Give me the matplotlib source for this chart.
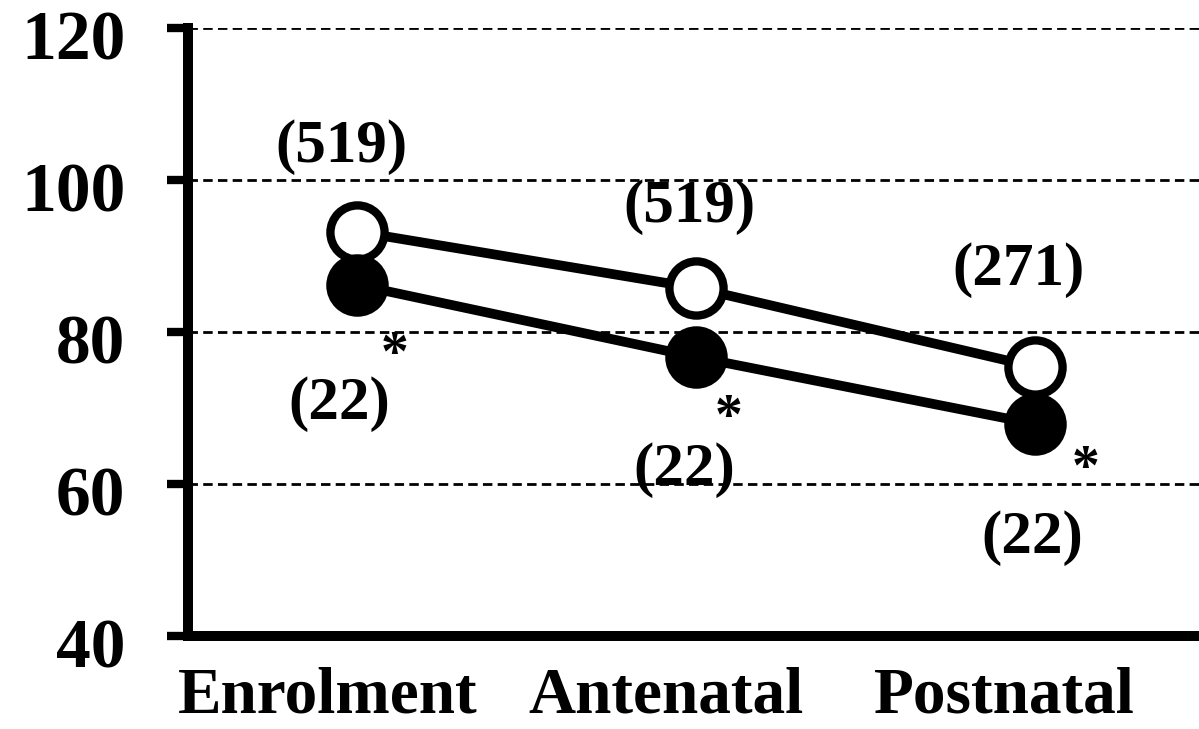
import matplotlib.pyplot as plt
from matplotlib.transforms import ScaledTranslation

# data
stages = ['Enrolment', 'Antenatal', 'Postnatal']
open_vals = [93.2, 85.8, 75.4]      # open circles
filled_vals = [86.2, 76.7, 67.9]    # filled circles
open_n = ['(519)', '(519)', '(271)']
filled_n = ['(22)', '(22)', '(22)']
yticks = [40, 60, 80, 100, 120]

plt.rcParams['font.family'] = 'Liberation Serif'
plt.rcParams['font.weight'] = 'bold'

fig = plt.figure(figsize=(11.99, 7.29), dpi=100)
ax = fig.add_axes([188 / 1199, 0.1276, (1204 - 188) / 1199, 0.834])

x = list(range(len(stages)))

# gridlines
for v in yticks[1:]:
    ax.axhline(v, color='black', lw=2, ls=(0, (3.4, 1.9)), zorder=1)

ax.plot(x, open_vals, color='black', lw=7, marker='o', ms=39, mew=6,
        mfc='white', mec='black', zorder=3, clip_on=False)
ax.plot(x, filled_vals, color='black', lw=7, marker='o', ms=39, mew=6,
        mfc='black', mec='black', zorder=4, clip_on=False)

# sample size labels and asterisks
open_off = [(-11.5, 61), (-5, 58), (-11.5, 70)]
n_off = [(-13, -86), (-8.6, -81), (-2, -82)]
star_off = [(26.6, -51), (23.8, -44.5), (37, -33)]
for i in x:
    ax.annotate(open_n[i], (x[i], open_vals[i]), xytext=open_off[i],
                textcoords='offset points', ha='center', va='center',
                fontsize=44, fontweight='bold')
    ax.annotate(filled_n[i], (x[i], filled_vals[i]), xytext=n_off[i],
                textcoords='offset points', ha='center', va='center',
                fontsize=44, fontweight='bold')
    ax.annotate('*', (x[i], filled_vals[i]), xytext=star_off[i],
                textcoords='offset points', ha='center', va='center',
                fontsize=40, fontweight='bold')

ax.set_xlim(-0.5, 2.5)
ax.set_ylim(40, 120)
ax.set_yticks(yticks)
ax.set_xticks(x)
ax.set_xticklabels(stages, fontsize=47, fontweight='bold')
ax.tick_params(axis='y', length=15, width=6, pad=30, labelsize=50)
ax.tick_params(axis='x', length=0, pad=22)
for lab in ax.get_yticklabels():
    lab.set_fontweight('bold')
    lab.set_transform(lab.get_transform() + ScaledTranslation(0, -0.07, fig.dpi_scale_trans))

shift = ScaledTranslation(-30 / 100, 0, fig.dpi_scale_trans)
for lab in ax.get_xticklabels():
    lab.set_transform(lab.get_transform() + shift)

for s in ['top', 'right']:
    ax.spines[s].set_visible(False)
ax.spines['left'].set_linewidth(7.2)
ax.spines['bottom'].set_linewidth(7.2)

fig.savefig('out.png', dpi=100)
